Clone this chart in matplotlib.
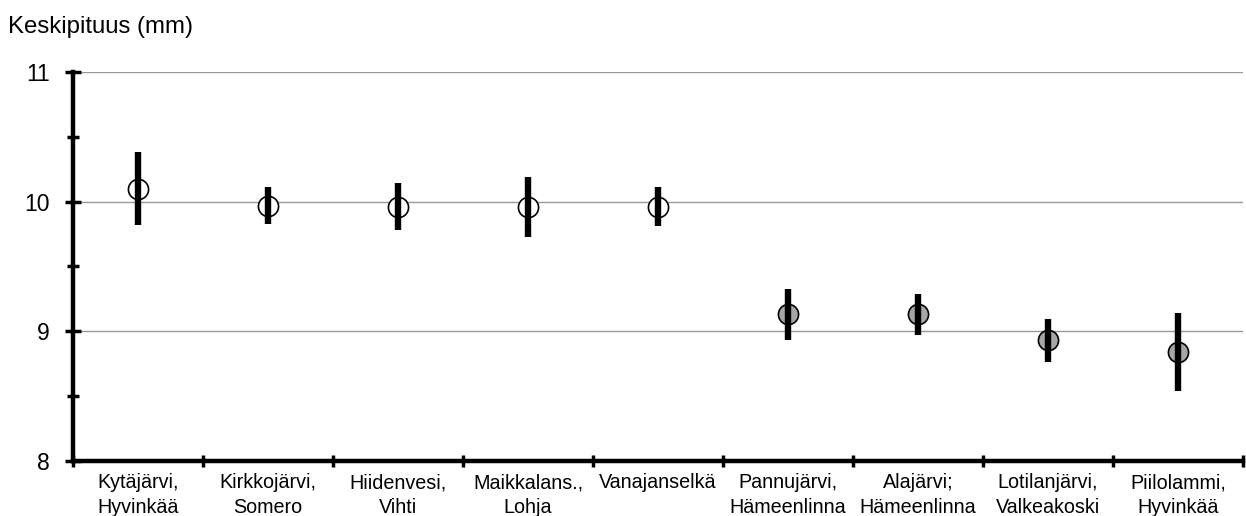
import matplotlib.pyplot as plt
import numpy as np

plt.rcParams['font.family'] = ['Liberation Sans', 'DejaVu Sans']

# järvet ja keskipituudet
jarvet = ['Kytäjärvi,\nHyvinkää', 'Kirkkojärvi,\nSomero', 'Hiidenvesi,\nVihti',
          'Maikkalans.,\nLohja', 'Vanajanselkä', 'Pannujärvi,\nHämeenlinna',
          'Alajärvi;\nHämeenlinna', 'Lotilanjärvi,\nValkeakoski', 'Piilolammi,\nHyvinkää']
keskipituus = [10.10, 9.97, 9.96, 9.96, 9.96, 9.13, 9.13, 8.93, 8.84]
virhe = [0.28, 0.14, 0.18, 0.23, 0.15, 0.20, 0.155, 0.165, 0.30]
taytto = ['white'] * 5 + ['#a6a6a6'] * 4

fig = plt.figure(figsize=(12.46, 5.16), dpi=100)
ax = fig.add_axes([0.0586, 0.1066, 0.939, 0.754])

x = np.arange(1, len(jarvet) + 1)
for xi, y, c in zip(x, keskipituus, taytto):
    ax.plot(xi, y, 'o', ms=14.5, mfc=c, mec='black', mew=1.2, zorder=3)
ax.errorbar(x, keskipituus, yerr=virhe, fmt='none', ecolor='black',
            elinewidth=4.6, capsize=0, zorder=4)

ax.set_xlim(0.5, 9.5)
ax.set_ylim(8, 11)
ax.set_yticks([8, 9, 10, 11])
ax.set_yticks([8.5, 9.5, 10.5], minor=True)
ax.set_yticklabels(['8', '9', '10', '11'], fontsize=16.5)
ax.set_xticks(np.arange(0.5, 10, 1))
ax.set_xticklabels([])
ax.set_xticks(x, minor=True)
ax.set_xticklabels(jarvet, minor=True, fontsize=14.2, linespacing=1.35)

ax.grid(axis='y', color='#999999', lw=1, zorder=0)
for s in ['top', 'right']:
    ax.spines[s].set_visible(False)
for s in ['left', 'bottom']:
    ax.spines[s].set_linewidth(3.2)
ax.tick_params(axis='y', which='major', direction='inout', length=11, width=2.5, pad=11)
ax.tick_params(axis='y', which='minor', direction='inout', length=8, width=2.5)
ax.tick_params(axis='x', which='major', direction='inout', length=9, width=2.5)
ax.tick_params(axis='x', which='minor', length=0, pad=9)

fig.text(0.0065, 0.947, 'Keskipituus (mm)', fontsize=17.3, va='center', ha='left')

fig.savefig('out.png', dpi=100)
